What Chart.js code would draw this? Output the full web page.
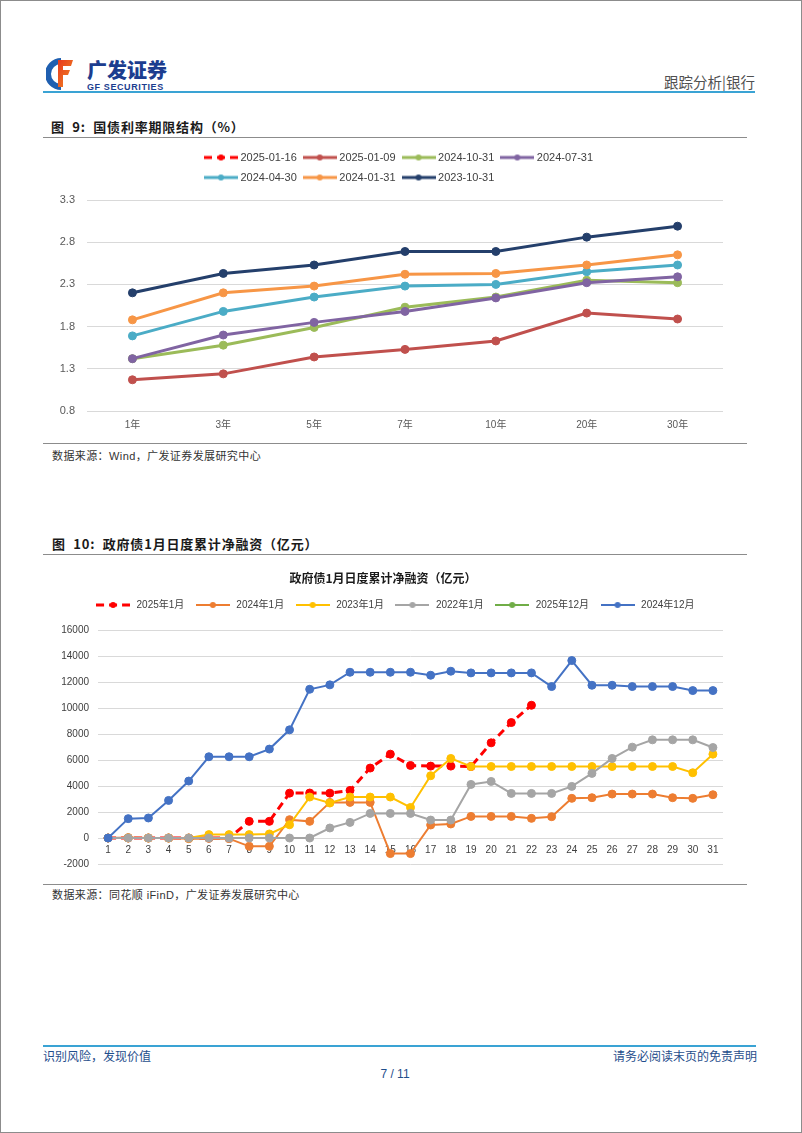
<!DOCTYPE html>
<html>
<head>
<meta charset="utf-8">
<script src="https://cdn.jsdelivr.net/npm/chart.js@4.4.1/dist/chart.umd.min.js"></script>
<style>
  body { margin: 0; background: #fff; font-family: "Liberation Sans", "Noto Sans CJK SC", sans-serif; }
  #page { position: relative; width: 802px; height: 1133px; overflow: hidden; background: #fff; }
  #frame { position: absolute; left: 0; top: 0; width: 802px; height: 1133px; border: 1px solid #8c8c8c; box-sizing: border-box; }
  .t { position: absolute; white-space: nowrap; }
  .rule { position: absolute; height: 0; border-top: 1px solid #8c8c8c; }
  .blue { position: absolute; height: 2px; background: #3aa3d4; }
  canvas { position: absolute; }
</style>
</head>
<body>
<div id="page">
  <div id="frame"></div>

  <!-- header -->
  <svg class="t" style="left:46px;top:57px" width="28" height="34" viewBox="0 0 28 34">
    <defs>
      <linearGradient id="rf" x1="0" y1="0" x2="1" y2="1">
        <stop offset="0" stop-color="#e8391e"/>
        <stop offset="1" stop-color="#f08a24"/>
      </linearGradient>
    </defs>
    <path d="M15 1 A16 16 0 0 0 15 33 L15 27 A10 10 0 0 1 15 7 Z" fill="#1f5fb0"/>
    <path d="M12 3 H27 L25 9 H17 V13 H24 L22 18 H17 V30 H12 Z" fill="url(#rf)"/>
  </svg>
  <div class="t" style="left:87px;top:59px;font-size:20px;line-height:22px;font-weight:900;color:#1c3d8f;font-family:'Noto Sans CJK SC'">广发证券</div>
  <div class="t" style="left:87px;top:82px;font-size:9px;line-height:10px;font-weight:bold;color:#1c3d8f;letter-spacing:0.6px">GF SECURITIES</div>
  <div class="t" style="right:47px;top:73px;font-size:14.5px;line-height:17px;color:#505050;font-family:'Noto Sans CJK SC'">跟踪分析|银行</div>
  <div class="blue" style="left:43px;top:91px;width:712px"></div>

  <!-- figure 9 -->
  <div class="t" style="left:51px;top:119px;font-size:13px;line-height:16px;font-weight:bold;color:#1a1a1a;font-family:'Noto Sans CJK SC';letter-spacing:0.8px">图&nbsp;&nbsp;9:&nbsp;&nbsp;国债利率期限结构（%）</div>
  <div class="rule" style="left:43px;top:137px;width:704px"></div>
  <canvas id="chart1" width="690" height="292" style="left:43px;top:143px"></canvas>
  <div class="rule" style="left:43px;top:443px;width:704px"></div>
  <div class="t" style="left:52px;top:449px;font-size:11px;line-height:14px;color:#333;letter-spacing:0.4px">数据来源：Wind，广发证券发展研究中心</div>

  <!-- figure 10 -->
  <div class="t" style="left:52px;top:536px;font-size:13px;line-height:16px;font-weight:bold;color:#1a1a1a;font-family:'Noto Sans CJK SC';letter-spacing:0.8px">图&nbsp;&nbsp;10:&nbsp;&nbsp;政府债1月日度累计净融资（亿元）</div>
  <div class="rule" style="left:43px;top:554px;width:704px"></div>
  <canvas id="chart2" width="690" height="324" style="left:43px;top:558px"></canvas>
  <div class="rule" style="left:43px;top:884px;width:704px"></div>
  <div class="t" style="left:52px;top:888px;font-size:11px;line-height:14px;color:#333;letter-spacing:0.4px">数据来源：同花顺 iFinD，广发证券发展研究中心</div>

  <!-- footer -->
  <div class="blue" style="left:43px;top:1045px;width:713px"></div>
  <div class="t" style="left:43px;top:1049px;font-size:12px;line-height:14px;color:#1f4e8c;font-family:'Noto Sans CJK SC'">识别风险，发现价值</div>
  <div class="t" style="right:45px;top:1049px;font-size:12px;line-height:14px;color:#1f4e8c;font-family:'Noto Sans CJK SC'">请务必阅读末页的免责声明</div>
  <div class="t" style="left:380px;top:1067px;width:30px;text-align:center;font-size:12px;line-height:14px;color:#1f4e8c">7 / 11</div>
</div>

<script>
// ---- 图9 data (%)
const termLabels = ['1年', '3年', '5年', '7年', '10年', '20年', '30年'];
const curveNames = ['2025-01-16', '2025-01-09', '2024-10-31', '2024-07-31', '2024-04-30', '2024-01-31', '2023-10-31'];
const y20250116 = [];
const y20250109 = [1.17, 1.24, 1.44, 1.53, 1.63, 1.96, 1.89];
const y20241031 = [1.42, 1.58, 1.79, 2.03, 2.15, 2.35, 2.32];
const y20240731 = [1.42, 1.70, 1.85, 1.98, 2.14, 2.32, 2.39];
const y20240430 = [1.69, 1.98, 2.15, 2.28, 2.30, 2.45, 2.53];
const y20240131 = [1.88, 2.20, 2.28, 2.42, 2.43, 2.53, 2.65];
const y20231031 = [2.20, 2.43, 2.53, 2.69, 2.69, 2.86, 2.99];
const curveColors = ['#ff0000', '#c0504d', '#9bbb59', '#8064a2', '#4bacc6', '#f79646', '#243f6b'];

// ---- 图10 data (亿元)
const dayLabels = ['1','2','3','4','5','6','7','8','9','10','11','12','13','14','15','16','17','18','19','20','21','22','23','24','25','26','27','28','29','30','31'];
const seriesNames = ['2025年1月', '2024年1月', '2023年1月', '2022年1月', '2025年12月', '2024年12月'];
const jan2025 = [0, 0, 0, 0, 0, 0, 0, 1280, 1280, 3450, 3460, 3450, 3660, 5380, 6450, 5580, 5530, 5530, 5500, 7320, 8880, 10210];
const jan2024 = [0, 30, 0, 0, -50, -30, -50, -640, -640, 1410, 1280, 2740, 2740, 2740, -1200, -1200, 1000, 1080, 1660, 1660, 1660, 1510, 1640, 3050, 3100, 3380, 3380, 3380, 3100, 3050, 3330];
const jan2023 = [0, 0, 0, 0, 0, 260, 260, 260, 310, 1020, 3150, 2690, 3150, 3150, 3150, 2350, 4790, 6120, 5500, 5500, 5500, 5500, 5500, 5500, 5500, 5500, 5500, 5500, 5500, 5020, 6450];
const jan2022 = [0, 0, 0, 0, 0, 0, 0, 0, 0, 0, 0, 770, 1200, 1890, 1890, 1890, 1380, 1380, 4120, 4350, 3430, 3430, 3430, 3970, 4970, 6120, 6990, 7550, 7550, 7550, 6960];
const dec2025 = [];
const dec2024 = [0, 1490, 1540, 2890, 4380, 6250, 6250, 6250, 6840, 8320, 11440, 11780, 12750, 12750, 12750, 12750, 12520, 12830, 12700, 12700, 12700, 12700, 11650, 13650, 11750, 11750, 11650, 11650, 11650, 11340, 11340];
const seriesColors = ['#ff0000', '#ed7d31', '#ffc000', '#a5a5a5', '#70ad47', '#4472c4'];

const FONT = '"Liberation Sans", "Noto Sans CJK SC", sans-serif';
Chart.defaults.font.family = FONT;

// legend sample: a short line with a dot, like the excel legend
function legendIcon(ds, w) {
  const c = document.createElement('canvas');
  c.width = w;
  c.height = 10;
  const g = c.getContext('2d');
  g.strokeStyle = ds.borderColor;
  g.lineWidth = ds.borderWidth;
  g.setLineDash(ds.borderDash || []);
  g.beginPath();
  g.moveTo(0, 5);
  g.lineTo(w, 5);
  g.stroke();
  g.fillStyle = ds.borderColor;
  g.beginPath();
  g.arc(w / 2, 5, 3, 0, Math.PI * 2);
  g.fill();
  return c;
}

function lineLegend(w) {
  return function (chart) {
    const items = Chart.defaults.plugins.legend.labels.generateLabels(chart);
    items.forEach(it => { it.pointStyle = legendIcon(chart.data.datasets[it.datasetIndex], w); });
    return items;
  };
}

// lets the legend wrap at a given width and sit at a given x
const legendRows = {
  id: 'legendRows',
  afterInit(chart, args, opts) {
    const lg = chart.legend;
    const fit = lg.fit;
    lg.fit = function () {
      const full = this.maxWidth;
      if (opts.rowWidth) this.maxWidth = opts.rowWidth;
      fit.call(this);
      this.maxWidth = full;
      this.width = full;
      this.height += opts.extra || 0;
    };
  },
  beforeDraw(chart, args, opts) {
    if (opts.rowWidth) {
      chart.legend.left = opts.left;
      chart.legend.right = opts.left + opts.rowWidth;
    }
  }
};

// ---- chart 1
const curveData = [y20250116, y20250109, y20241031, y20240731, y20240430, y20240131, y20231031];
const sets1 = curveNames.map((name, i) => ({
  label: name,
  data: curveData[i],
  borderColor: curveColors[i],
  backgroundColor: curveColors[i],
  pointBackgroundColor: curveColors[i],
  pointBorderColor: curveColors[i],
  borderWidth: 3,
  borderDash: i === 0 ? [8, 5] : [],
  pointRadius: 4,
  pointBorderWidth: 1,
  order: curveNames.length - i
}));

new Chart(document.getElementById('chart1').getContext('2d'), {
  type: 'line',
  data: { labels: termLabels, datasets: sets1 },
  plugins: [legendRows],
  options: {
    responsive: false,
    animation: false,
    devicePixelRatio: 1,
    layout: { padding: { left: 0, right: 10, top: 0, bottom: 0 } },
    plugins: {
      legend: {
        position: 'top',
        align: 'start',
        labels: {
          usePointStyle: true,
          pointStyleWidth: 28,
          padding: 9,
          color: '#404040',
          font: { size: 11 },
          generateLabels: lineLegend(34),
          sort: (a, b) => a.datasetIndex - b.datasetIndex
        }
      },
      legendRows: { left: 155, rowWidth: 440, extra: 7 },
      tooltip: { enabled: false }
    },
    scales: {
      x: {
        offset: true,
        grid: { display: false, drawTicks: false },
        border: { display: false },
        ticks: { color: '#595959', font: { size: 10 }, padding: 8 },
        afterFit: s => { s.height = 24; }
      },
      y: {
        min: 0.8,
        max: 3.3,
        ticks: { stepSize: 0.5, callback: v => v.toFixed(1), color: '#595959', font: { size: 11 }, padding: 12 },
        grid: { color: '#d9d9d9', drawTicks: false },
        border: { display: false },
        afterFit: s => { s.width = 44; }
      }
    }
  }
});

// ---- chart 2
const seriesData = [jan2025, jan2024, jan2023, jan2022, dec2025, dec2024];
const sets2 = seriesNames.map((name, i) => ({
  label: name,
  data: seriesData[i],
  borderColor: seriesColors[i],
  backgroundColor: seriesColors[i],
  pointBackgroundColor: seriesColors[i],
  pointBorderColor: seriesColors[i],
  borderWidth: i === 0 ? 3 : 2,
  borderDash: i === 0 ? [8, 5] : [],
  pointRadius: 4,
  pointBorderWidth: 1,
  order: seriesNames.length - i
}));

new Chart(document.getElementById('chart2').getContext('2d'), {
  type: 'line',
  data: { labels: dayLabels, datasets: sets2 },
  plugins: [legendRows],
  options: {
    responsive: false,
    animation: false,
    devicePixelRatio: 1,
    layout: { padding: { left: 0, right: 10, top: 0, bottom: 18 } },
    plugins: {
      title: {
        display: true,
        text: '政府债1月日度累计净融资（亿元）',
        color: '#1a1a1a',
        font: { size: 12, weight: 'bold', family: '"Noto Sans CJK SC", sans-serif' },
        padding: { top: 13, bottom: 4.6 }
      },
      legend: {
        position: 'top',
        align: 'center',
        labels: {
          usePointStyle: true,
          pointStyleWidth: 37,
          padding: 10,
          color: '#404040',
          font: { size: 10 },
          generateLabels: lineLegend(34),
          sort: (a, b) => a.datasetIndex - b.datasetIndex
        }
      },
      legendRows: { left: 13, rowWidth: 677, extra: 10 },
      tooltip: { enabled: false }
    },
    scales: {
      x: {
        offset: true,
        position: { y: 0 },
        grid: { display: false, drawTicks: false },
        border: { display: false },
        ticks: { color: '#404040', font: { size: 10 }, padding: 6, maxRotation: 0, autoSkip: false }
      },
      y: {
        min: -2000,
        max: 16000,
        ticks: { stepSize: 2000, callback: v => String(v), color: '#404040', font: { size: 10 }, padding: 9 },
        grid: { color: '#d9d9d9', drawTicks: false },
        border: { display: false },
        afterFit: s => { s.width = 55; }
      }
    }
  }
});
</script>
</body>
</html>
